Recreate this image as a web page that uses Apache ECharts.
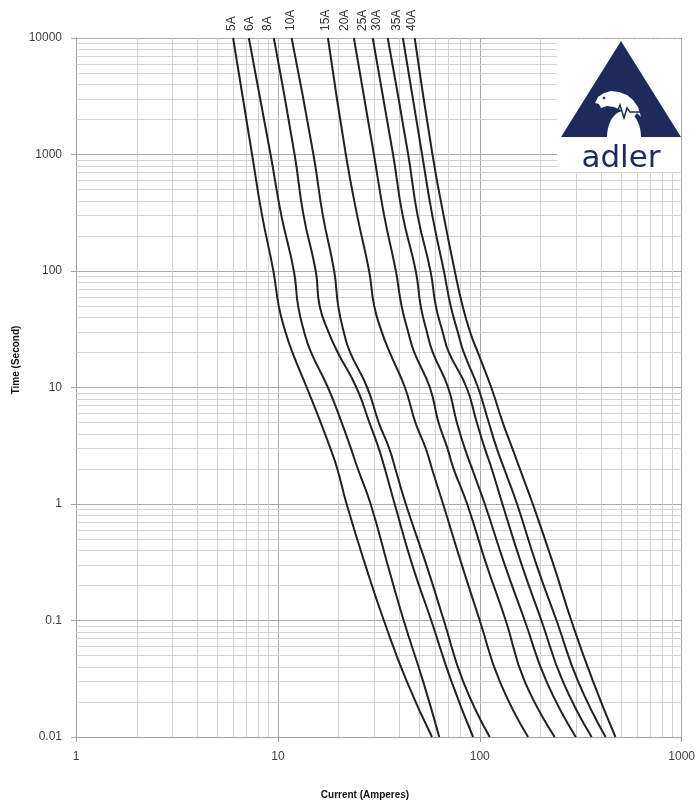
<!DOCTYPE html>
<html><head><meta charset="utf-8">
<script src="https://cdn.jsdelivr.net/npm/echarts@6/dist/echarts.min.js"></script>
<style>html,body{margin:0;padding:0;background:#fff}#c{width:698px;height:803px}</style>
</head><body><div id="c"></div>
<script>
// Time (seconds) at which each curve's current was read
const timeValues = [10000, 1000, 300, 100, 50, 30, 20, 10, 5, 3, 2, 1, 0.3, 0.1, 0.03, 0.01];
const ratings = ['5A', '6A', '8A', '10A', '15A', '20A', '25A', '30A', '35A', '40A'];
// Current (A) for each rating at the times above
const amps5A  = [6.0, 7.45, 8.35, 9.5, 10.1, 10.9, 11.8, 13.9, 16.3, 18.2, 19.7, 21.9, 27.1, 33.5, 43.5, 58.0];
const amps6A  = [7.18, 9.2, 10.4, 12.0, 12.6, 13.5, 14.6, 17.7, 20.7, 23.0, 24.9, 28.8, 35.0, 42.0, 52.4, 63.0];
const amps8A  = [9.55, 12.1, 13.4, 15.4, 16.1, 17.8, 19.8, 24.5, 28.4, 31.6, 33.9, 37.9, 46.3, 57.5, 72.4, 92.7];
const amps10A = [11.7, 15.0, 16.7, 19.0, 19.9, 21.2, 22.8, 27.7, 31.6, 35.6, 38.2, 43.0, 54.4, 66.4, 82.7, 112];
const amps15A = [17.7, 21.7, 24.7, 28.3, 30.0, 32.7, 35.8, 42.6, 48.0, 54.0, 58.0, 65.8, 81.5, 100, 125.6, 173.5];
const amps20A = [23.8, 29.9, 33.6, 38.4, 41.0, 44.2, 47.4, 56.6, 62.5, 69.2, 74.2, 86.6, 108, 134.5, 167, 235];
const amps25A = [29.5, 37.2, 41.5, 48.2, 51.0, 54.7, 58.5, 69.7, 77.0, 84.3, 91.7, 105.9, 133, 167, 214, 299];
const amps30A = [35.0, 44.2, 49.2, 57.0, 60.6, 65.5, 70.3, 86.0, 96.7, 105.9, 114.7, 129.5, 161.4, 202, 258, 358];
const amps35A = [41.6, 51.8, 58.2, 66.4, 71.8, 77.8, 83.3, 98.0, 110.8, 121.4, 132.2, 153, 191, 240, 307, 420];
const amps40A = [47.6, 58.3, 66.2, 75.2, 82.2, 89.5, 97.8, 114, 130, 145, 158, 183, 232, 284, 364, 470];
const xTickLabels = ['1', '10', '100', '1000'];
const yTickLabels = ['0.01', '0.1', '1', '10', '100', '1000', '10000'];
const xAxisTitle = 'Current (Amperes)';
const yAxisTitle = 'Time (Second)';
const logoText = 'adler';

const seriesAmps = [amps5A, amps6A, amps8A, amps10A, amps15A, amps20A, amps25A, amps30A, amps35A, amps40A];
// layout: horizontal nudge (px) of each rating label from its curve's top end
const labelNudgePx = [-1, 1, -6, -1, -2, -9, -10, -11, -6, -3];

// minor (2..9) grid positions per decade
const xMinor = [], yMinor = [];
for (let e = 0; e < 3; e++) for (let k = 2; k <= 9; k++) xMinor.push(k * Math.pow(10, e));
for (let e = -2; e < 4; e++) for (let k = 2; k <= 9; k++) yMinor.push(+(k * Math.pow(10, e)).toPrecision(3));

const chart = echarts.init(document.getElementById('c'));
const NAVY = '#1c2b5b';
const curveSeries = ratings.map((r, i) => ({
  name: r, type: 'line',
  data: seriesAmps[i].map((a, j) => [a, timeValues[j]]),
  symbol: 'none', showSymbol: false, smooth: 0.5,
  lineStyle: { color: '#222', width: 2 }, z: 5, silent: true, animation: false
}));

const option = {
  animation: false,
  grid: { left: 76, right: 16, top: 38, bottom: 66 },
  xAxis: {
    type: 'log', logBase: 10, min: 1, max: 1000,
    axisLine: { show: true, lineStyle: { color: '#a0a0a0', width: 1 } },
    axisTick: { show: true, length: 5, lineStyle: { color: '#a0a0a0' } },
    axisLabel: { fontSize: 12, color: '#404040', margin: 14, fontFamily: 'Liberation Sans',
      formatter: v => xTickLabels[Math.round(Math.log10(v))] },
    splitLine: { show: true, lineStyle: { color: '#a8a8a8', width: 1 } }
  },
  yAxis: {
    type: 'log', logBase: 10, min: 0.01, max: 10000,
    axisLine: { show: true, lineStyle: { color: '#a0a0a0', width: 1 } },
    axisTick: { show: true, length: 5, lineStyle: { color: '#a0a0a0' } },
    axisLabel: { fontSize: 12, color: '#404040', margin: 14, fontFamily: 'Liberation Sans',
      formatter: v => yTickLabels[Math.round(Math.log10(v)) + 2] },
    splitLine: { show: true, lineStyle: { color: '#a8a8a8', width: 1 } }
  },
  series: [{
    type: 'line', data: [], z: 1, silent: true,
    markLine: {
      silent: true, animation: false, symbol: ['none', 'none'],
      label: { show: false },
      lineStyle: { color: '#d2d2d2', width: 1, type: 'solid' },
      emphasis: { disabled: true },
      data: [...xMinor.map(v => ({ xAxis: v })), ...yMinor.map(v => ({ yAxis: v }))]
    }
  }].concat(curveSeries)
};
chart.setOption(option);

const labelGraphics = ratings.map((r, i) => {
  const p = chart.convertToPixel({ gridIndex: 0 }, [seriesAmps[i][0], timeValues[0]]);
  return { type: 'text', x: p[0] + labelNudgePx[i], y: p[1] - 7, rotation: Math.PI / 2, z: 50,
    style: { text: r, fill: '#333', font: '12px "Liberation Sans"', align: 'left', verticalAlign: 'middle' } };
});

// logo decoration
const archPts = [];
for (let k = 0; k <= 20; k++) {
  const a = Math.PI * k / 20;
  archPts.push([624 - 17 * Math.cos(a), 137 - 26 * Math.sin(a)]);
}
const logo = [
  { type: 'rect', shape: { x: 557, y: 39, width: 124, height: 133 }, style: { fill: '#fff' }, z: 40 },
  { type: 'polygon', shape: { points: [[621, 41], [561, 137], [681, 137]] }, style: { fill: NAVY }, z: 41 },
  { type: 'polygon', shape: { points: archPts }, style: { fill: '#fff' }, z: 42 },
  { type: 'polygon', shape: { points: [[595, 103], [598, 97], [604, 93], [611, 91], [619, 92], [627, 95], [633, 100], [638, 107], [641, 117], [637, 113], [634, 117], [630, 112], [626, 116], [621, 110], [614, 107], [607, 106], [601, 108], [599, 104]] }, style: { fill: '#fff' }, z: 42 },
  { type: 'polyline', shape: { points: [[611, 112], [617, 112], [620, 105], [624, 118], [627, 108], [630, 112], [641, 112]] }, style: { stroke: NAVY, lineWidth: 1.5, fill: null }, z: 43 },
  { type: 'circle', shape: { cx: 604, cy: 98, r: 1.3 }, style: { fill: NAVY }, z: 43 },
  { type: 'text', x: 621, y: 159, z: 43, style: { text: logoText, fill: NAVY, font: '31px "DejaVu Sans"', align: 'center', verticalAlign: 'middle' } }
];

const titles = [
  { type: 'text', x: 365, y: 795, z: 50, style: { text: xAxisTitle, fill: '#111', font: 'bold 10px "Liberation Sans"', align: 'center', verticalAlign: 'middle' } },
  { type: 'text', x: 16, y: 360, rotation: Math.PI / 2, z: 50, style: { text: yAxisTitle, fill: '#111', font: 'bold 10px "Liberation Sans"', align: 'center', verticalAlign: 'middle' } }
];

chart.setOption({ graphic: { elements: labelGraphics.concat(logo, titles) } });
</script></body></html>
